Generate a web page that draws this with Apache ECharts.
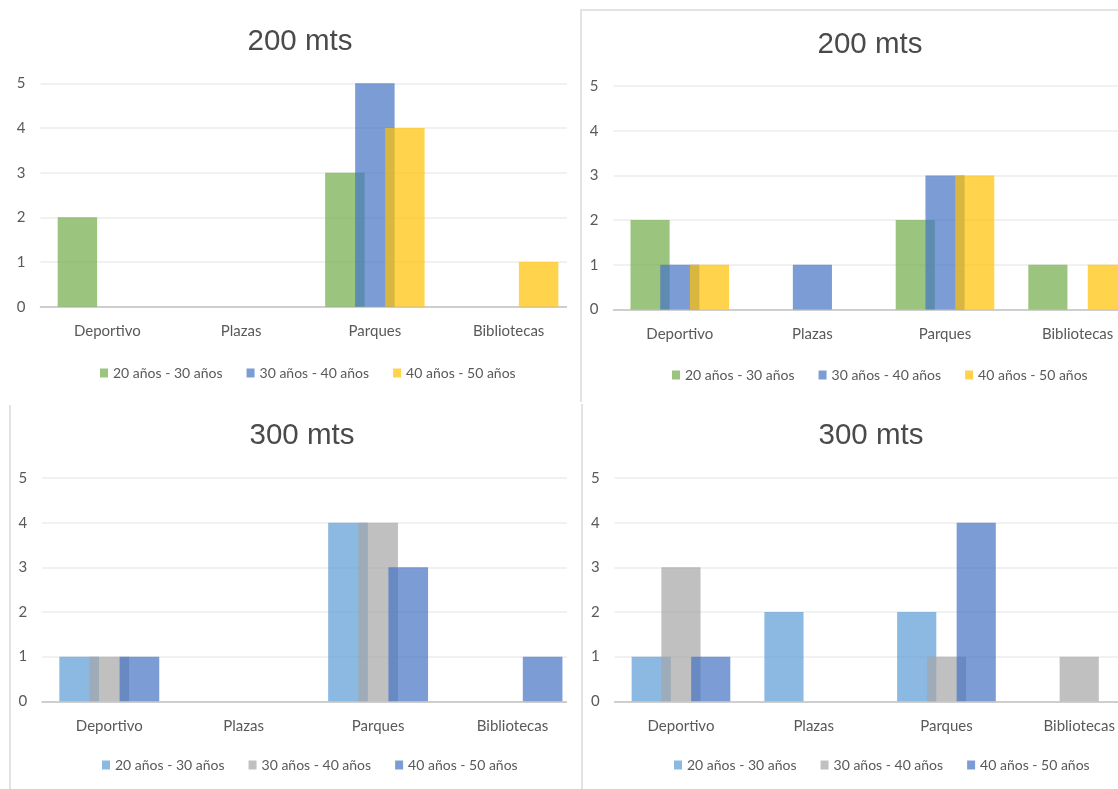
<!DOCTYPE html>
<html>
<head>
<meta charset="utf-8">
<title>Preferencias por distancia</title>
<script src="https://cdn.jsdelivr.net/npm/echarts@6/dist/echarts.min.js"></script>
<style>
  html, body { margin: 0; padding: 0; background: #ffffff; overflow: hidden; width: 1118px; height: 789px; }
  .panel { position: absolute; }
  .rule { position: absolute; background: #E3E3E3; }
</style>
</head>
<body>
<div id="p1" class="panel" style="left:0;top:0;width:567px;height:400px"></div>
<div id="p2" class="panel" style="left:580px;top:0;width:538px;height:400px"></div>
<div id="p3" class="panel" style="left:0;top:400px;width:567px;height:389px"></div>
<div id="p4" class="panel" style="left:580px;top:400px;width:538px;height:389px"></div>
<!-- panel frames -->
<div class="rule" style="left:580px;top:9px;width:538px;height:1.5px"></div>
<div class="rule" style="left:580px;top:9px;width:1.5px;height:393px"></div>
<div class="rule" style="left:581px;top:404px;width:1.5px;height:385px"></div>
<div class="rule" style="left:9px;top:405px;width:1.5px;height:384px"></div>
<script>
// Categories and age groups
const categories = ['Deportivo', 'Plazas', 'Parques', 'Bibliotecas'];
const ageGroups = ['20 años - 30 años', '30 años - 40 años', '40 años - 50 años'];
const titles = ['200 mts', '200 mts', '300 mts', '300 mts'];

// 200 mts, first survey
const a200_20_30 = [2, 0, 3, 0];
const a200_30_40 = [0, 0, 5, 0];
const a200_40_50 = [0, 0, 4, 1];
// 200 mts, second survey
const b200_20_30 = [2, 0, 2, 1];
const b200_30_40 = [1, 1, 3, 0];
const b200_40_50 = [1, 0, 3, 1];
// 300 mts, first survey
const a300_20_30 = [1, 0, 4, 0];
const a300_30_40 = [1, 0, 4, 0];
const a300_40_50 = [1, 0, 3, 1];
// 300 mts, second survey
const b300_20_30 = [1, 2, 2, 0];
const b300_30_40 = [3, 0, 1, 1];
const b300_40_50 = [1, 0, 4, 0];

// Semi-transparent fills so overlapping bars show through
const palette200 = ['rgba(112,173,71,0.7)', 'rgba(68,114,196,0.7)', 'rgba(255,192,0,0.7)'];
const palette300 = ['rgba(91,155,213,0.7)', 'rgba(165,165,165,0.7)', 'rgba(68,114,196,0.7)'];

const TEXT = '#595959';
const LABEL_FONT = 'Lato, "Open Sans", sans-serif';

function buildPanel(id, title, seriesValues, palette, layout) {
  const chart = echarts.init(document.getElementById(id), null, { renderer: 'canvas' });
  chart.setOption({
    animation: false,
    backgroundColor: 'transparent',
    title: {
      text: title,
      left: layout.titleX,
      top: layout.titleY,
      textAlign: 'center',
      textVerticalAlign: 'middle',
      padding: 0,
      textStyle: { fontFamily: '"Liberation Sans", Arial, sans-serif', fontSize: 29.5, fontWeight: 'normal', color: '#4A4A4A' }
    },
    legend: {
      data: ageGroups,
      left: layout.legendX,
      top: layout.legendY,
      padding: 0,
      icon: 'rect',
      itemWidth: 8,
      itemHeight: 9,
      itemGap: 24,
      selectedMode: false,
      textStyle: { fontFamily: LABEL_FONT, fontSize: 14, color: TEXT }
    },
    grid: {
      left: layout.gridLeft,
      top: layout.gridTop,
      width: layout.gridWidth,
      height: layout.gridHeight,
      containLabel: false,
      outerBoundsMode: 'none'
    },
    xAxis: {
      type: 'category',
      data: categories,
      axisTick: { show: false },
      axisLine: { lineStyle: { color: '#C2C2C2', width: 1.6 } },
      axisLabel: { interval: 0, color: TEXT, fontFamily: LABEL_FONT, fontSize: 15, margin: 17 },
      splitLine: { show: false }
    },
    yAxis: {
      type: 'value',
      min: 0,
      max: 5,
      interval: 1,
      axisLine: { show: false },
      axisTick: { show: false },
      axisLabel: { color: TEXT, fontFamily: LABEL_FONT, fontSize: 15, margin: 15 },
      splitLine: { lineStyle: { color: '#ECECEC', width: 1.5 } }
    },
    series: seriesValues.map((values, i) => ({
      type: 'bar',
      name: ageGroups[i],
      data: values,
      barWidth: '29.5%',
      barGap: '-24%',
      itemStyle: { color: palette[i] },
      emphasis: { disabled: true }
    }))
  });
  return chart;
}

buildPanel('p1', titles[0], [a200_20_30, a200_30_40, a200_40_50], palette200, {
  titleX: 300, titleY: 42, legendX: 100, legendY: 366,
  gridLeft: 40.5, gridTop: 83.3, gridWidth: 535, gridHeight: 223.4
});
buildPanel('p2', titles[1], [b200_20_30, b200_30_40, b200_40_50], palette200, {
  titleX: 290, titleY: 45, legendX: 92, legendY: 368,
  gridLeft: 33.5, gridTop: 86, gridWidth: 530.4, gridHeight: 223.5
});
buildPanel('p3', titles[2], [a300_20_30, a300_30_40, a300_40_50], palette300, {
  titleX: 302, titleY: 36, legendX: 102, legendY: 358,
  gridLeft: 42.1, gridTop: 78, gridWidth: 537.6, gridHeight: 223.3
});
buildPanel('p4', titles[3], [b300_20_30, b300_30_40, b300_40_50], palette300, {
  titleX: 291, titleY: 36, legendX: 94, legendY: 358,
  gridLeft: 34.6, gridTop: 78, gridWidth: 531, gridHeight: 223.3
});
</script>
</body>
</html>
